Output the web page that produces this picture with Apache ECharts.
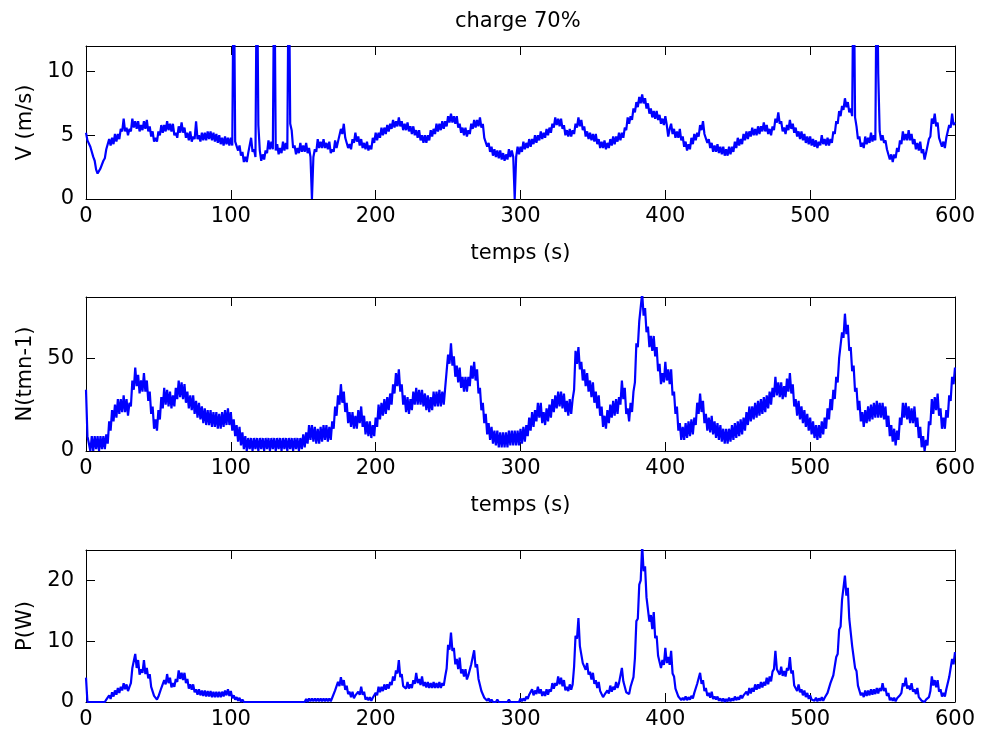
<!DOCTYPE html>
<html>
<head>
<meta charset="utf-8">
<script src="https://cdn.jsdelivr.net/npm/echarts@6/dist/echarts.min.js"></script>
<style>
  html, body { margin: 0; padding: 0; background: #fff; }
  #main { width: 985px; height: 740px; }
</style>
</head>
<body>
<div id="main"></div>
<script>
// sampling step of the recordings (s)
const STEP = 1;

// vitesse du vent V (m/s), one value per second from 0 to 600 s (20 s per row)
const speed = [
  5.2,4.6,4.6,4.1,4.1,3.3,3.0,2.3,2.0,2.0,2.4,2.5,3.0,3.2,3.9,4.0,4.7,4.2,4.8,4.3,
  5.1,4.5,5.1,4.7,5.5,5.3,6.3,5.3,5.6,5.0,5.5,5.3,6.3,5.6,6.1,5.5,6.1,5.3,5.8,5.4,
  6.1,5.5,6.2,5.3,5.7,4.9,5.3,4.5,4.8,4.5,5.3,5.0,5.8,5.2,5.8,5.3,6.1,5.4,5.9,5.3,
  5.9,5.0,5.2,4.8,5.7,5.2,6.0,5.2,5.6,4.8,5.2,4.6,5.3,4.5,4.9,4.7,6.1,4.7,5.0,4.5,
  5.2,4.6,5.2,4.6,5.3,4.7,5.3,4.6,5.2,4.5,5.1,4.4,5.0,4.3,4.8,4.2,4.9,4.3,4.8,4.2,
  4.8,4.2,20,4.5,4.5,3.8,4.2,3.4,3.7,2.9,3.3,2.9,3.6,3.6,4.8,3.7,3.9,3.3,20,5.8,
  3.8,3.0,3.5,3.1,3.8,3.6,4.6,3.9,4.5,3.9,20,3.8,4.3,3.5,4.0,3.6,4.5,3.8,4.4,3.9,
  20,5.9,5.4,4.0,4.2,3.5,4.0,3.6,4.4,3.7,4.2,3.7,4.4,3.6,4.0,3.3,0,3.3,3.9,3.7,
  4.7,4.0,4.5,4.0,4.7,4.0,4.4,3.9,4.5,3.6,3.9,3.7,4.6,4.0,4.5,4.4,5.5,5.1,5.9,4.8,
  4.8,4.0,4.3,3.9,4.7,4.4,5.2,4.5,4.9,4.2,4.7,4.0,4.4,3.9,4.5,3.8,4.2,3.9,4.8,4.4,
  5.2,4.6,5.2,4.8,5.6,5.0,5.6,5.1,5.8,5.3,5.9,5.5,6.2,5.6,6.1,5.7,6.4,5.7,6.1,5.4,
  5.9,5.4,6.0,5.3,5.7,5.1,5.7,5.0,5.4,4.8,5.4,4.6,5.0,4.4,5.0,4.4,5.0,4.6,5.4,4.9,
  5.5,5.1,5.9,5.3,5.9,5.4,6.1,5.5,6.1,5.7,6.5,6.0,6.7,6.0,6.5,5.9,6.5,5.6,5.9,5.2,
  5.6,5.0,5.6,4.9,5.4,5.1,5.9,5.5,6.2,5.6,6.2,5.7,6.4,5.6,5.9,4.8,4.9,4.1,4.4,3.7,
  4.1,3.4,3.9,3.3,3.8,3.2,3.8,3.1,3.6,3.0,3.5,3.1,3.9,3.3,3.8,3.3,0,3.3,4.1,3.5,
  4.1,3.7,4.5,3.9,4.4,4.0,4.7,4.1,4.7,4.3,5.0,4.4,5.0,4.6,5.3,4.7,5.2,4.8,5.5,5.0,
  5.6,5.2,5.9,5.6,6.4,5.8,6.3,5.7,6.3,5.5,5.8,5.0,5.4,4.9,5.5,4.9,5.4,5.1,5.9,5.6,
  6.4,5.7,6.2,5.4,5.7,4.9,5.3,4.7,5.2,4.6,5.1,4.5,5.1,4.3,4.7,4.0,4.5,4.0,4.6,3.9,
  4.4,4.0,4.7,4.2,4.9,4.3,4.9,4.5,5.2,4.6,5.2,4.8,5.6,5.4,6.4,5.9,6.5,6.2,7.1,6.8,
  7.6,7.2,8.0,7.5,8.2,7.5,7.9,7.1,7.5,6.7,7.1,6.4,6.9,6.3,6.9,6.2,6.6,5.9,6.3,5.8,
  6.5,5.8,4.9,5.5,5.9,5.1,5.5,4.8,5.3,4.8,5.5,4.6,4.9,4.1,4.5,3.8,4.3,3.9,4.8,4.3,
  5.1,4.6,5.2,4.9,5.8,5.4,6.1,5.1,5.2,4.4,4.7,4.0,4.4,3.7,4.2,3.7,4.3,3.6,4.1,3.5,
  4.1,3.4,3.9,3.4,4.1,3.5,4.1,3.7,4.5,4.0,4.8,4.2,4.7,4.3,5.1,4.6,5.3,4.7,5.3,4.9,
  5.6,5.0,5.5,5.0,5.7,5.1,5.7,5.3,6.0,5.3,5.8,5.1,5.5,5.0,5.7,5.4,6.3,6.0,6.8,5.9,
  6.1,5.3,5.6,5.1,5.8,5.4,6.2,5.5,5.9,5.2,5.6,4.9,5.3,4.7,5.3,4.6,5.1,4.4,4.9,4.3,
  4.9,4.2,4.7,4.1,4.6,4.0,4.5,4.2,5.0,4.3,4.7,4.2,4.8,4.2,4.7,4.4,5.3,5.1,6.1,5.9,
  6.9,6.5,7.3,7.0,7.9,7.2,7.6,6.8,7.1,6.5,20,6.4,5.7,4.7,4.9,4.1,4.4,4.0,4.9,4.3,
  4.8,4.4,5.2,4.5,5.0,4.6,20,9.8,5.3,4.6,5.0,4.4,4.6,3.9,3.9,3.1,3.5,2.9,3.5,3.2,
  4.0,3.7,4.6,4.3,5.3,4.6,5.1,4.6,5.4,4.6,5.1,4.3,4.7,3.9,4.4,3.8,4.5,3.6,3.9,3.1,
  3.6,3.5,4.7,4.9,6.3,5.9,6.7,5.7,6.0,4.8,4.9,4.1,4.5,4.0,4.8,4.7,5.8,5.6,6.7,5.8,
  6.0
];

// vitesse de rotation N (tr/min)
const rotation = [
  33,8,8,0,8,0,8,1,8,0,8,1,8,1,9,4,16,11,22,16,
  25,18,28,20,28,21,30,21,28,19,26,24,38,33,45,35,41,31,38,32,
  42,32,38,27,32,20,24,12,17,11,22,17,29,23,34,25,33,24,32,23,
  30,24,34,28,38,29,37,28,36,26,32,23,30,22,30,20,27,18,26,17,
  24,15,23,14,22,14,22,13,21,13,21,12,20,12,21,13,22,14,23,14,
  21,11,17,8,14,5,13,3,10,1,8,0,7,1,7,0,7,1,7,0,
  7,1,7,0,7,1,7,0,7,1,7,0,7,1,7,0,7,1,7,0,
  7,1,7,0,7,1,7,0,7,1,9,2,10,4,14,6,14,5,13,4,
  12,4,13,5,14,6,14,5,13,6,16,12,24,19,30,25,36,26,32,21,
  26,15,21,13,21,12,19,12,22,15,24,13,19,9,16,8,16,7,14,8,
  18,13,25,17,26,19,28,20,29,22,31,25,36,31,42,35,44,32,36,25,
  30,21,29,20,28,22,32,25,34,25,33,25,33,24,31,22,30,21,29,22,
  32,24,32,24,33,24,32,25,34,35,52,47,58,46,51,40,46,37,45,34,
  40,32,40,32,40,35,46,39,48,38,44,31,34,22,26,15,20,9,15,6,
  13,4,11,3,11,2,10,2,10,2,10,2,11,3,11,3,11,3,11,3,
  12,4,13,5,14,8,18,11,21,13,22,16,26,18,26,15,21,14,23,16,
  25,18,28,21,30,23,32,24,32,23,31,21,27,19,28,20,28,33,54,47,
  56,44,48,38,44,35,42,32,38,29,37,26,32,23,30,19,24,13,19,12,
  22,15,25,18,27,19,28,20,29,25,38,28,34,20,23,16,26,21,32,37,
  58,56,70,69,85,73,77,64,67,56,62,54,62,51,56,43,47,36,42,37,
  48,38,44,36,44,30,32,20,24,11,15,6,13,6,15,7,16,8,17,9,
  18,14,26,20,31,21,27,15,20,11,18,10,19,9,16,7,15,6,14,5,
  12,4,12,4,12,5,14,6,15,7,16,8,17,9,18,11,21,14,24,16,
  24,17,26,18,27,19,28,20,29,21,30,23,32,25,34,29,40,30,37,29,
  37,28,35,29,39,32,42,31,36,24,28,19,27,17,24,15,22,13,20,11,
  18,9,16,7,14,6,14,7,16,9,18,12,23,17,28,22,33,28,40,37,
  50,49,64,61,74,63,68,54,56,43,46,32,34,22,27,16,21,13,22,15,
  24,16,25,17,26,18,27,18,26,18,26,17,24,13,19,8,14,5,12,3,
  11,6,18,14,26,18,26,17,24,15,23,15,24,13,18,7,13,2,8,0,
  6,3,16,14,28,20,29,22,31,19,23,12,18,12,22,18,30,27,40,36,
  45
];

// puissance P (W)
const power = [
  4,0,0,0,0,0,0,0,0,0,0,0,0,0,0.4,0.3,1.1,0.5,1.6,0.9,
  1.9,1.2,2.3,1.5,2.5,1.9,3.1,2.1,2.9,1.8,2.5,3.1,5.6,5.4,7.9,5.6,6.9,4.5,5.4,4.8,
  6.9,4.6,5.6,3.9,4.6,2.5,2.7,1.0,0.9,0.4,0.9,1.0,2.3,2.0,3.6,2.9,4.6,3.1,4.0,2.4,
  3.1,2.5,3.8,3.3,5.2,3.8,4.8,3.6,4.8,3.1,3.8,2.2,2.9,2.0,2.9,1.6,2.1,1.2,2.1,1.1,
  1.9,1.0,1.9,0.9,1.8,0.9,1.8,0.8,1.7,0.8,1.7,0.8,1.7,0.8,1.7,0.9,1.9,1.1,2.1,1.0,
  1.8,0.6,1.1,0.4,0.8,0.2,0.7,0,0.4,0,0,0,0,0,0,0,0,0,0,0,
  0,0,0,0,0,0,0,0,0,0,0,0,0,0,0,0,0,0,0,0,
  0,0,0,0,0,0,0,0,0,0,0,0,0.5,0,0.6,0.1,0.6,0.1,0.6,0.1,
  0.6,0.1,0.6,0.1,0.6,0.1,0.6,0.1,0.6,0.1,0.7,0.7,1.9,1.7,3.3,2.6,4.1,2.7,3.6,2.0,
  2.7,1.3,1.7,0.8,1.7,0.6,1.1,0.8,1.7,1.2,2.5,1.2,1.7,0.4,0.8,0.3,0.8,0.2,0.7,0.5,
  1.5,1.1,2.5,1.6,2.5,1.8,2.9,2.0,2.9,2.2,3.3,2.8,4.2,3.5,5.2,4.7,6.9,4.1,4.6,2.6,
  2.9,2.2,3.3,2.2,2.9,2.3,3.6,3.0,4.8,3.1,3.8,2.8,4.2,2.6,3.3,2.4,3.3,2.3,3.1,2.3,
  3.3,2.3,3.1,2.3,3.3,2.3,3.1,2.7,4.2,5.5,9.4,8.6,11.4,8.4,8.9,6.2,7.1,5.4,7.3,4.7,
  5.4,4.2,5.4,3.7,4.4,4.1,6.2,6.0,8.5,5.7,6.2,3.8,3.8,1.8,2.1,0.7,0.9,0.2,0.6,0,
  0.4,0,0.3,0,0.4,0,0.3,0,0.3,0,0.3,0,0.4,0,0.3,0,0.3,0,0.3,0,
  0.6,0.1,0.6,0.2,0.9,0.5,1.2,1.0,2.1,1.1,1.9,1.3,2.5,1.4,2.1,1.0,1.7,1.0,2.1,1.2,
  2.1,1.7,3.1,2.2,3.1,2.7,4.2,2.9,4.0,2.6,3.6,1.9,2.5,1.8,2.9,2.0,2.9,5.8,10.9,10.4,
  13.8,9.2,9.4,6.4,6.6,5.3,6.4,4.5,5.0,3.7,4.8,3.0,3.6,2.3,3.3,1.8,2.1,0.8,1.2,0.9,
  1.9,1.4,2.7,1.7,2.5,2.0,3.3,2.3,3.1,3.4,5.6,3.4,3.6,1.6,1.9,1.3,2.5,2.3,4.1,7.2,
  13.3,13.7,19.3,20.0,25.8,21.5,22.3,17.2,17.3,13.2,14.3,12.0,14.8,10.5,10.9,7.6,7.9,5.6,6.9,6.1,
  8.9,6.4,7.4,6.1,8.4,4.7,4.2,2.2,2.5,0.9,0.9,0.3,0.7,0.3,0.9,0.3,0.8,0.4,1.0,0.6,
  1.5,1.3,3.0,2.9,4.8,3.0,3.6,1.8,2.3,1.0,1.5,0.7,1.7,0.5,0.9,0.4,0.9,0.2,0.6,0.1,
  0.6,0,0.5,0.1,0.7,0.1,0.6,0.2,0.9,0.3,0.8,0.4,1.1,0.6,1.1,0.8,1.7,1.1,2.3,1.4,
  2.3,1.7,2.9,2.0,2.9,2.2,3.3,2.4,3.3,2.7,4.0,2.9,4.2,3.4,5.0,5.4,8.4,5.4,5.6,4.5,
  5.8,4.3,5.1,4.2,5.6,5.2,7.4,4.7,5.2,2.7,2.5,1.8,2.9,1.6,2.1,1.1,1.9,0.8,1.5,0.5,
  1.1,0.4,0.7,0.2,0.7,0.1,0.6,0.2,0.8,0.2,0.7,0.5,1.5,1.4,3.1,2.8,4.4,4.6,7.4,7.9,
  11.9,12.4,16.8,16.5,20.8,17.5,18.8,13.7,13.8,9.2,9.4,5.6,5.1,2.7,2.5,1.1,1.5,0.8,1.9,1.0,
  1.9,1.1,2.1,1.2,2.1,1.3,2.3,1.4,2.3,1.8,3.1,1.8,2.3,1.0,1.5,0.3,0.7,0.2,0.7,0.1,
  0.6,0.3,1.1,1.5,3.1,2.6,4.0,2.2,2.7,2.0,3.1,1.7,2.1,1.3,2.3,0.8,0.9,0.2,0.5,0,
  0.4,0.1,0.8,1.8,4.2,2.7,3.6,2.4,3.6,1.7,2.1,0.9,1.5,0.9,2.1,2.1,4.1,4.3,7.1,6.2,
  8.2
];

const pairs = (vals) => vals.map((v, i) => [i * STEP, v]);

const FONT = 'DejaVu Sans';
const FS = 21;

// panel settings: y range, tick interval, y label, x label
const panels = [
  { top: 46, height: 153, max: 12, interval: 5, name: 'V (m/s)', xname: 'temps (s)', data: speed },
  { top: 297, height: 154, max: 83, interval: 50, name: 'N(tmn-1)', xname: 'temps (s)', data: rotation },
  { top: 550, height: 152, max: 25, interval: 10, name: 'P(W)', xname: '', data: power }
];

const chart = echarts.init(document.getElementById('main'));

const grid = [], xAxis = [], yAxis = [], series = [];
const tick = { show: true, inside: true, length: 9, lineStyle: { color: '#000', width: 1 } };
const line = { show: true, onZero: false, lineStyle: { color: '#000', width: 1 } };
const label = { color: '#000', fontFamily: FONT, fontSize: FS };

panels.forEach((p, i) => {
  grid.push({ left: 86, right: 30, top: p.top, height: p.height, containLabel: false });
  // bottom and top x axes
  xAxis.push({
    type: 'value', gridIndex: i, position: 'bottom', min: 0, max: 600, interval: 100,
    axisLine: line, axisTick: tick, splitLine: { show: false },
    axisLabel: Object.assign({ margin: 7 }, label),
    name: p.xname, nameLocation: 'middle', nameGap: 44,
    nameTextStyle: { color: '#000', fontFamily: FONT, fontSize: FS }
  });
  xAxis.push({
    type: 'value', gridIndex: i, position: 'top', min: 0, max: 600, interval: 100,
    axisLine: line, axisTick: tick, splitLine: { show: false }, axisLabel: { show: false }
  });
  // left and right y axes
  yAxis.push({
    type: 'value', gridIndex: i, position: 'left', min: 0, max: p.max, interval: p.interval,
    axisLine: line, axisTick: tick, splitLine: { show: false },
    axisLabel: Object.assign({ margin: 12, showMaxLabel: false }, label),
    name: p.name, nameLocation: 'middle', nameGap: 48, nameRotate: 90,
    nameTextStyle: { color: '#000', fontFamily: FONT, fontSize: FS }
  });
  yAxis.push({
    type: 'value', gridIndex: i, position: 'right', min: 0, max: p.max, interval: p.interval,
    axisLine: line, axisTick: tick, splitLine: { show: false }, axisLabel: { show: false }
  });
  series.push({
    type: 'line', xAxisIndex: i * 2, yAxisIndex: i * 2,
    data: pairs(p.data), showSymbol: false, clip: true, sampling: null,
    lineStyle: { color: '#0000ff', width: 2.2 }
  });
});

chart.setOption({
  animation: false,
  backgroundColor: '#fff',
  title: {
    text: 'charge 70%', left: 450, top: 6,
    textStyle: { color: '#000', fontFamily: FONT, fontSize: FS, fontWeight: 'normal' }
  },
  grid, xAxis, yAxis, series
});
</script>
</body>
</html>
